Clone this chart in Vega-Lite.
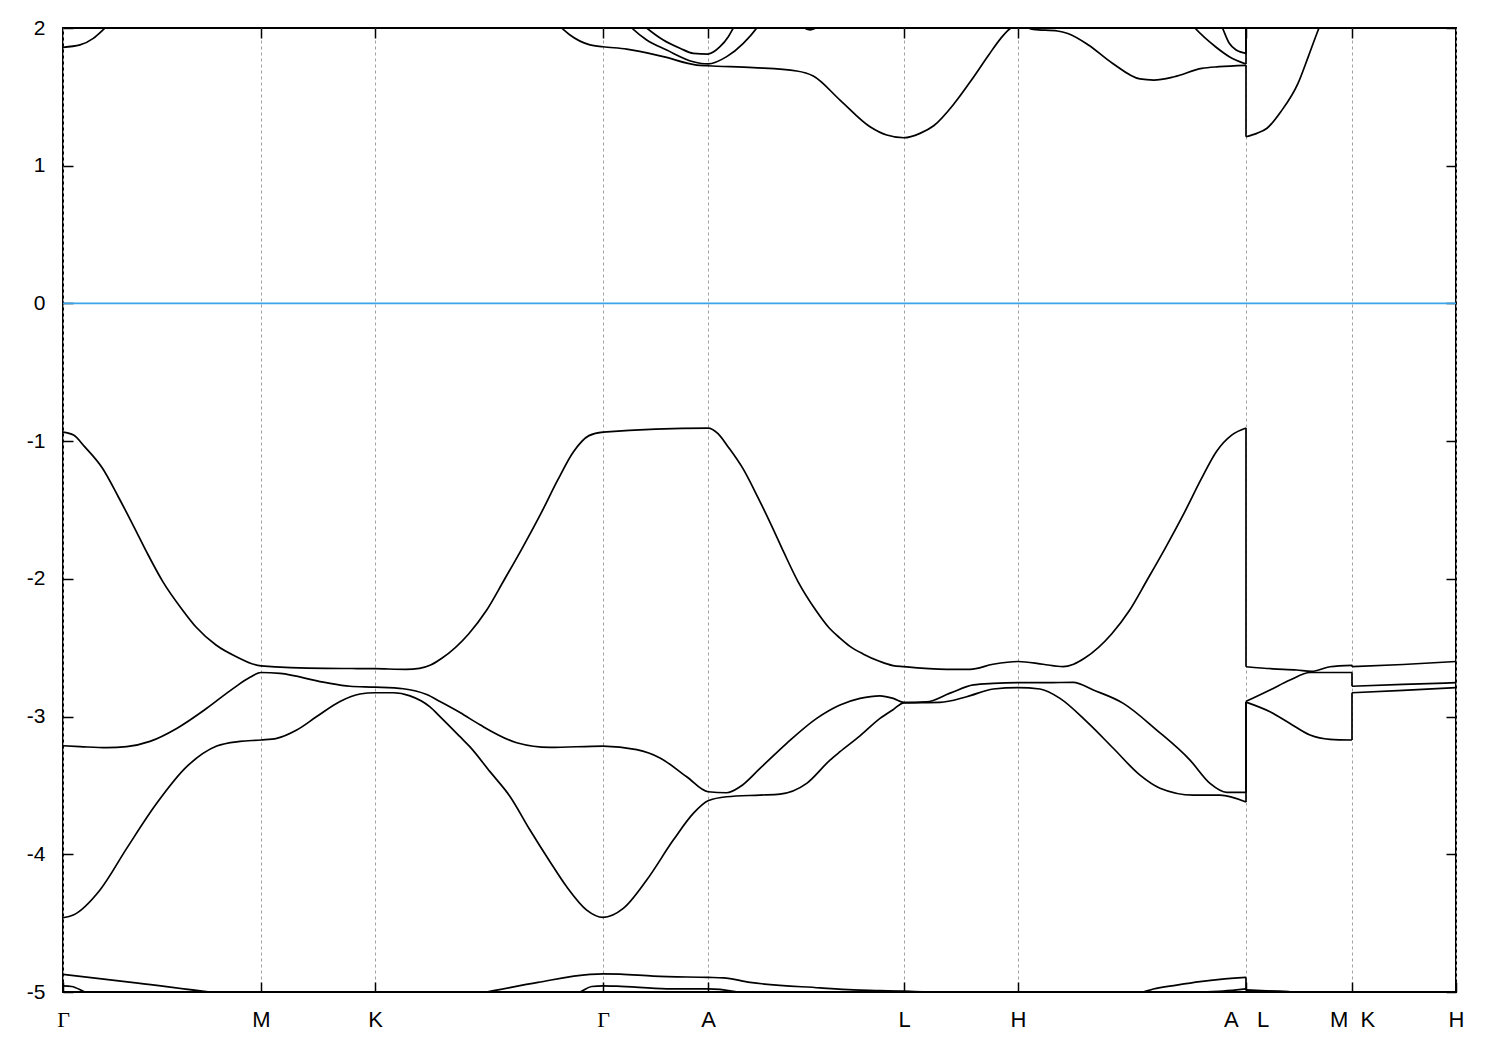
{
  "$schema": "https://vega.github.io/schema/vega-lite/v6.json",
  "width": 1393,
  "height": 964,
  "autosize": "none",
  "padding": {"left": 63, "top": 28, "right": 44, "bottom": 58},
  "background": "white",
  "config": {
    "view": {"stroke": "black", "strokeWidth": 2},
    "axis": {"labelFont": "Liberation Sans", "labelFontSize": 20, "labelColor": "black", "tickColor": "black", "tickWidth": 1.5, "domain": false, "title": null}
  },
  "datasets": {
    "bands": [
      {"s":"v1a","k":0,"e":-0.935},{"s":"v1a","k":10.5,"e":-0.956},{"s":"v1a","k":21.6,"e":-1.04},{"s":"v1a","k":39.5,"e":-1.197},{"s":"v1a","k":55,"e":-1.4},{"s":"v1a","k":70.8,"e":-1.62},{"s":"v1a","k":84,"e":-1.81},{"s":"v1a","k":99.8,"e":-2.02},{"s":"v1a","k":119.9,"e":-2.23},{"s":"v1a","k":133,"e":-2.35},{"s":"v1a","k":153,"e":-2.48},{"s":"v1a","k":173.4,"e":-2.565},{"s":"v1a","k":198,"e":-2.632},{"s":"v1a","k":262.7,"e":-2.65},{"s":"v1a","k":312,"e":-2.652},{"s":"v1a","k":343,"e":-2.657},{"s":"v1a","k":356.5,"e":-2.65},{"s":"v1a","k":367.6,"e":-2.626},{"s":"v1a","k":378.8,"e":-2.577},{"s":"v1a","k":405.6,"e":-2.4},{"s":"v1a","k":423.4,"e":-2.23},{"s":"v1a","k":441,"e":-2.01},{"s":"v1a","k":459,"e":-1.78},{"s":"v1a","k":479,"e":-1.51},{"s":"v1a","k":494.9,"e":-1.28},{"s":"v1a","k":510.5,"e":-1.077},{"s":"v1a","k":526,"e":-0.96},{"s":"v1a","k":540,"e":-0.935},{"s":"v1a","k":645,"e":-0.905},{"s":"v1a","k":655,"e":-0.945},{"s":"v1a","k":665,"e":-1.04},{"s":"v1a","k":680,"e":-1.2},{"s":"v1a","k":695,"e":-1.41},{"s":"v1a","k":709,"e":-1.62},{"s":"v1a","k":721,"e":-1.81},{"s":"v1a","k":735,"e":-2.02},{"s":"v1a","k":753,"e":-2.23},{"s":"v1a","k":766,"e":-2.355},{"s":"v1a","k":777,"e":-2.43},{"s":"v1a","k":787,"e":-2.49},{"s":"v1a","k":800,"e":-2.545},{"s":"v1a","k":817,"e":-2.6},{"s":"v1a","k":830,"e":-2.63},{"s":"v1a","k":841,"e":-2.638},{"s":"v1a","k":883.7,"e":-2.657},{"s":"v1a","k":907,"e":-2.657},{"s":"v1a","k":930,"e":-2.62},{"s":"v1a","k":955,"e":-2.6},{"s":"v1a","k":980,"e":-2.62},{"s":"v1a","k":1000,"e":-2.638},{"s":"v1a","k":1010.6,"e":-2.62},{"s":"v1a","k":1021.8,"e":-2.575},{"s":"v1a","k":1048.6,"e":-2.4},{"s":"v1a","k":1066.4,"e":-2.23},{"s":"v1a","k":1084,"e":-2.01},{"s":"v1a","k":1102,"e":-1.78},{"s":"v1a","k":1122,"e":-1.51},{"s":"v1a","k":1137.9,"e":-1.28},{"s":"v1a","k":1153.5,"e":-1.075},{"s":"v1a","k":1169,"e":-0.955},{"s":"v1a","k":1183,"e":-0.905},
      {"s":"v1j1","k":1183,"e":-0.905},{"s":"v1j1","k":1183,"e":-2.638},
      {"s":"v1b","k":1183,"e":-2.638},{"s":"v1b","k":1210,"e":-2.653},{"s":"v1b","k":1233.7,"e":-2.662},{"s":"v1b","k":1248.7,"e":-2.672},{"s":"v1b","k":1267,"e":-2.638},{"s":"v1b","k":1289,"e":-2.628},
      {"s":"v1j2","k":1289,"e":-2.628},{"s":"v1j2","k":1289,"e":-2.638},
      {"s":"v1c","k":1289,"e":-2.638},{"s":"v1c","k":1340,"e":-2.622},{"s":"v1c","k":1393,"e":-2.6},

      {"s":"v2a","k":0,"e":-3.212},{"s":"v2a","k":17,"e":-3.218},{"s":"v2a","k":43.7,"e":-3.226},{"s":"v2a","k":63.7,"e":-3.218},{"s":"v2a","k":87,"e":-3.18},{"s":"v2a","k":113.7,"e":-3.086},{"s":"v2a","k":143.7,"e":-2.94},{"s":"v2a","k":170.3,"e":-2.795},{"s":"v2a","k":187,"e":-2.715},{"s":"v2a","k":198,"e":-2.68},{"s":"v2a","k":217,"e":-2.687},{"s":"v2a","k":260.3,"e":-2.75},{"s":"v2a","k":287,"e":-2.78},{"s":"v2a","k":312,"e":-2.786},{"s":"v2a","k":340.3,"e":-2.798},{"s":"v2a","k":363.7,"e":-2.84},{"s":"v2a","k":377,"e":-2.89},{"s":"v2a","k":397,"e":-2.97},{"s":"v2a","k":417,"e":-3.06},{"s":"v2a","k":453.7,"e":-3.19},{"s":"v2a","k":487,"e":-3.224},{"s":"v2a","k":540,"e":-3.214},{"s":"v2a","k":573.7,"e":-3.24},{"s":"v2a","k":597,"e":-3.3},{"s":"v2a","k":623.7,"e":-3.437},{"s":"v2a","k":645,"e":-3.546},{"s":"v2a","k":663.7,"e":-3.553},{"s":"v2a","k":677,"e":-3.51},{"s":"v2a","k":697,"e":-3.376},{"s":"v2a","k":723.7,"e":-3.194},{"s":"v2a","k":753.7,"e":-3.013},{"s":"v2a","k":777,"e":-2.916},{"s":"v2a","k":797,"e":-2.868},{"s":"v2a","k":817,"e":-2.849},{"s":"v2a","k":830.3,"e":-2.868},{"s":"v2a","k":841,"e":-2.897},{"s":"v2a","k":863.7,"e":-2.893},{"s":"v2a","k":887,"e":-2.83},{"s":"v2a","k":910.3,"e":-2.77},{"s":"v2a","k":930.3,"e":-2.759},{"s":"v2a","k":955,"e":-2.754},{"s":"v2a","k":983.7,"e":-2.754},{"s":"v2a","k":1010.3,"e":-2.751},{"s":"v2a","k":1030.3,"e":-2.807},{"s":"v2a","k":1060.3,"e":-2.904},{"s":"v2a","k":1093.7,"e":-3.098},{"s":"v2a","k":1127,"e":-3.316},{"s":"v2a","k":1147,"e":-3.485},{"s":"v2a","k":1163.7,"e":-3.55},{"s":"v2a","k":1183,"e":-3.55},
      {"s":"v2j1","k":1183,"e":-3.55},{"s":"v2j1","k":1183,"e":-2.89},
      {"s":"v2b","k":1183,"e":-2.89},{"s":"v2b","k":1207,"e":-2.807},{"s":"v2b","k":1227,"e":-2.735},{"s":"v2b","k":1247,"e":-2.68},{"s":"v2b","k":1267,"e":-2.68},{"s":"v2b","k":1289,"e":-2.68},
      {"s":"v2j2","k":1289,"e":-2.68},{"s":"v2j2","k":1289,"e":-2.78},
      {"s":"v2c","k":1289,"e":-2.78},{"s":"v2c","k":1340,"e":-2.766},{"s":"v2c","k":1393,"e":-2.754},

      {"s":"v3a","k":0,"e":-4.461},{"s":"v3a","k":10.3,"e":-4.441},{"s":"v3a","k":37,"e":-4.259},{"s":"v3a","k":63.7,"e":-3.957},{"s":"v3a","k":93.7,"e":-3.63},{"s":"v3a","k":123.7,"e":-3.364},{"s":"v3a","k":153.7,"e":-3.214},{"s":"v3a","k":177,"e":-3.18},{"s":"v3a","k":198,"e":-3.17},{"s":"v3a","k":213.7,"e":-3.158},{"s":"v3a","k":233.7,"e":-3.098},{"s":"v3a","k":253.7,"e":-3.0},{"s":"v3a","k":277,"e":-2.89},{"s":"v3a","k":297,"e":-2.836},{"s":"v3a","k":312,"e":-2.827},{"s":"v3a","k":330.3,"e":-2.827},{"s":"v3a","k":347,"e":-2.85},{"s":"v3a","k":367,"e":-2.93},{"s":"v3a","k":377,"e":-3.0},{"s":"v3a","k":397,"e":-3.146},{"s":"v3a","k":407,"e":-3.22},{"s":"v3a","k":427,"e":-3.4},{"s":"v3a","k":447,"e":-3.58},{"s":"v3a","k":467,"e":-3.824},{"s":"v3a","k":487,"e":-4.054},{"s":"v3a","k":503.7,"e":-4.236},{"s":"v3a","k":523.7,"e":-4.405},{"s":"v3a","k":540,"e":-4.458},{"s":"v3a","k":560.3,"e":-4.393},{"s":"v3a","k":583.7,"e":-4.187},{"s":"v3a","k":610.3,"e":-3.897},{"s":"v3a","k":630.3,"e":-3.703},{"s":"v3a","k":645,"e":-3.611},{"s":"v3a","k":663.7,"e":-3.582},{"s":"v3a","k":697,"e":-3.57},{"s":"v3a","k":717,"e":-3.563},{"s":"v3a","k":743.7,"e":-3.485},{"s":"v3a","k":767,"e":-3.316},{"s":"v3a","k":777,"e":-3.255},{"s":"v3a","k":797,"e":-3.14},{"s":"v3a","k":817,"e":-3.013},{"s":"v3a","k":830,"e":-2.95},{"s":"v3a","k":841,"e":-2.9},{"s":"v3a","k":877,"e":-2.897},{"s":"v3a","k":903.7,"e":-2.856},{"s":"v3a","k":930.3,"e":-2.8},{"s":"v3a","k":955,"e":-2.79},{"s":"v3a","k":977,"e":-2.8},{"s":"v3a","k":997,"e":-2.868},{"s":"v3a","k":1023.7,"e":-3.037},{"s":"v3a","k":1050.3,"e":-3.23},{"s":"v3a","k":1077,"e":-3.425},{"s":"v3a","k":1097,"e":-3.52},{"s":"v3a","k":1130.3,"e":-3.57},{"s":"v3a","k":1157,"e":-3.57},{"s":"v3a","k":1183,"e":-3.62},
      {"s":"v3j1","k":1183,"e":-3.62},{"s":"v3j1","k":1183,"e":-2.895},
      {"s":"v3b","k":1183,"e":-2.895},{"s":"v3b","k":1207,"e":-2.965},{"s":"v3b","k":1227,"e":-3.05},{"s":"v3b","k":1247,"e":-3.134},{"s":"v3b","k":1267,"e":-3.165},{"s":"v3b","k":1289,"e":-3.17},
      {"s":"v3j2","k":1289,"e":-3.17},{"s":"v3j2","k":1289,"e":-2.827},
      {"s":"v3c","k":1289,"e":-2.827},{"s":"v3c","k":1340,"e":-2.81},{"s":"v3c","k":1393,"e":-2.79},

      {"s":"v4a","k":0,"e":-4.872},{"s":"v4a","k":75,"e":-4.935},{"s":"v4a","k":147,"e":-5.0},{"s":"v4a","k":200,"e":-5.04},{"s":"v4a","k":300,"e":-5.1},{"s":"v4a","k":400,"e":-5.03},{"s":"v4a","k":423.7,"e":-5.0},{"s":"v4a","k":475,"e":-4.93},{"s":"v4a","k":527,"e":-4.872},{"s":"v4a","k":540,"e":-4.868},{"s":"v4a","k":557,"e":-4.87},{"s":"v4a","k":590.3,"e":-4.885},{"s":"v4a","k":645,"e":-4.894},{"s":"v4a","k":660.3,"e":-4.897},{"s":"v4a","k":687,"e":-4.93},{"s":"v4a","k":757,"e":-4.97},{"s":"v4a","k":790.3,"e":-4.985},{"s":"v4a","k":817,"e":-4.99},{"s":"v4a","k":841,"e":-4.996},{"s":"v4a","k":857,"e":-5.0},{"s":"v4a","k":900,"e":-5.05},{"s":"v4a","k":1000,"e":-5.08},{"s":"v4a","k":1080.3,"e":-5.0},{"s":"v4a","k":1090.3,"e":-4.978},{"s":"v4a","k":1113.7,"e":-4.95},{"s":"v4a","k":1137,"e":-4.925},{"s":"v4a","k":1157,"e":-4.908},{"s":"v4a","k":1183,"e":-4.894},
      {"s":"v4j1","k":1183,"e":-4.894},{"s":"v4j1","k":1183,"e":-4.985},
      {"s":"v4b","k":1183,"e":-4.985},{"s":"v4b","k":1210,"e":-4.993},{"s":"v4b","k":1230,"e":-5.0},{"s":"v4b","k":1260,"e":-5.05},{"s":"v4b","k":1289,"e":-5.1},

      {"s":"v5a","k":0,"e":-4.955},{"s":"v5a","k":8.7,"e":-4.96},{"s":"v5a","k":22,"e":-5.0},{"s":"v5a","k":60,"e":-5.05},{"s":"v5a","k":300,"e":-5.15},{"s":"v5a","k":500,"e":-5.03},{"s":"v5a","k":517,"e":-5.0},{"s":"v5a","k":528.7,"e":-4.96},{"s":"v5a","k":540,"e":-4.955},{"s":"v5a","k":553.7,"e":-4.957},{"s":"v5a","k":603.7,"e":-4.977},{"s":"v5a","k":645,"e":-4.977},{"s":"v5a","k":670.3,"e":-4.995},{"s":"v5a","k":680,"e":-5.01},{"s":"v5a","k":700,"e":-5.02},{"s":"v5a","k":790,"e":-5.01},{"s":"v5a","k":815,"e":-4.998},{"s":"v5a","k":841,"e":-4.996},{"s":"v5a","k":860,"e":-4.999},{"s":"v5a","k":880,"e":-5.02},{"s":"v5a","k":1100,"e":-5.03},{"s":"v5a","k":1140,"e":-5.0},{"s":"v5a","k":1160,"e":-4.993},{"s":"v5a","k":1183,"e":-4.977},
      {"s":"v5j1","k":1183,"e":-4.977},{"s":"v5j1","k":1183,"e":-4.99},
      {"s":"v5b","k":1183,"e":-4.99},{"s":"v5b","k":1210,"e":-4.995},{"s":"v5b","k":1230,"e":-5.0},{"s":"v5b","k":1260,"e":-5.05},

      {"s":"c1a","k":0,"e":1.86},{"s":"c1a","k":17,"e":1.877},{"s":"c1a","k":30.3,"e":1.925},{"s":"c1a","k":42,"e":2.0},{"s":"c1a","k":60,"e":2.12},{"s":"c1a","k":300,"e":2.6},{"s":"c1a","k":480,"e":2.12},{"s":"c1a","k":498.7,"e":2.0},{"s":"c1a","k":507,"e":1.949},{"s":"c1a","k":527,"e":1.877},{"s":"c1a","k":540,"e":1.864},{"s":"c1a","k":563.7,"e":1.847},{"s":"c1a","k":600.3,"e":1.792},{"s":"c1a","k":633.7,"e":1.731},{"s":"c1a","k":645,"e":1.726},{"s":"c1a","k":690.3,"e":1.712},{"s":"c1a","k":733.7,"e":1.688},{"s":"c1a","k":750.3,"e":1.651},{"s":"c1a","k":777,"e":1.477},{"s":"c1a","k":807,"e":1.283},{"s":"c1a","k":823.7,"e":1.223},{"s":"c1a","k":841,"e":1.203},{"s":"c1a","k":857,"e":1.235},{"s":"c1a","k":870.7,"e":1.29},{"s":"c1a","k":891.4,"e":1.453},{"s":"c1a","k":908.5,"e":1.622},{"s":"c1a","k":925.7,"e":1.804},{"s":"c1a","k":937.8,"e":1.925},{"s":"c1a","k":948,"e":2.0},{"s":"c1a","k":955,"e":2.015},{"s":"c1a","k":965,"e":2.0},{"s":"c1a","k":970.4,"e":1.99},{"s":"c1a","k":994.5,"e":1.978},{"s":"c1a","k":1004.8,"e":1.96},{"s":"c1a","k":1025.4,"e":1.877},{"s":"c1a","k":1049.4,"e":1.744},{"s":"c1a","k":1076.9,"e":1.63},{"s":"c1a","k":1090.7,"e":1.622},{"s":"c1a","k":1111.3,"e":1.646},{"s":"c1a","k":1138.8,"e":1.707},{"s":"c1a","k":1156,"e":1.719},{"s":"c1a","k":1183,"e":1.729},
      {"s":"c1j1","k":1183,"e":1.729},{"s":"c1j1","k":1183,"e":1.21},
      {"s":"c1b","k":1183,"e":1.21},{"s":"c1b","k":1193.8,"e":1.235},{"s":"c1b","k":1204,"e":1.272},{"s":"c1b","k":1217.8,"e":1.392},{"s":"c1b","k":1235,"e":1.598},{"s":"c1b","k":1245.3,"e":1.792},{"s":"c1b","k":1255.6,"e":1.993},{"s":"c1b","k":1265,"e":2.15},{"s":"c1b","k":1289,"e":2.5},

      {"s":"c2a","k":555,"e":2.2},{"s":"c2a","k":583.7,"e":2.0},{"s":"c2a","k":600.3,"e":1.913},{"s":"c2a","k":617,"e":1.853},{"s":"c2a","k":630.3,"e":1.816},{"s":"c2a","k":645,"e":1.811},{"s":"c2a","k":657,"e":1.864},{"s":"c2a","k":665.3,"e":1.937},{"s":"c2a","k":670.3,"e":2.0},{"s":"c2a","k":685,"e":2.2},
      {"s":"c2b","k":1145,"e":2.2},{"s":"c2b","k":1159.4,"e":2.0},{"s":"c2b","k":1166.3,"e":1.889},{"s":"c2b","k":1173.2,"e":1.84},{"s":"c2b","k":1183,"e":1.816},
      {"s":"c2j1","k":1183,"e":1.816},{"s":"c2j1","k":1183,"e":2.3},
      {"s":"c3a","k":545,"e":2.2},{"s":"c3a","k":568.7,"e":2.0},{"s":"c3a","k":583.7,"e":1.913},{"s":"c3a","k":603.7,"e":1.84},{"s":"c3a","k":630.3,"e":1.755},{"s":"c3a","k":645,"e":1.739},{"s":"c3a","k":663.7,"e":1.792},{"s":"c3a","k":680.3,"e":1.889},{"s":"c3a","k":693.7,"e":2.0},{"s":"c3a","k":710,"e":2.2},
      {"s":"c3b","k":1110,"e":2.2},{"s":"c3b","k":1131.9,"e":2.0},{"s":"c3b","k":1152.5,"e":1.864},{"s":"c3b","k":1166.3,"e":1.792},{"s":"c3b","k":1183,"e":1.739},
      {"s":"c3j1","k":1183,"e":1.739},{"s":"c3j1","k":1183,"e":2.3},
      {"s":"c4","k":725,"e":2.1},{"s":"c4","k":737,"e":2.02},{"s":"c4","k":747,"e":1.986},{"s":"c4","k":757,"e":2.02},{"s":"c4","k":770,"e":2.1}
    ],
    "zero": [{"k0": 0, "k1": 1393, "e": 0}]
  },
  "layer": [
    {
      "data": {"name": "bands"},
      "mark": {"type": "line", "color": "black", "strokeWidth": 1.7, "clip": true, "interpolate": "monotone"},
      "encoding": {
        "x": {"field": "k", "type": "quantitative",
          "scale": {"domain": [0, 1393], "nice": false, "zero": false},
          "axis": {"orient": "bottom", "values": [0, 198, 312, 540, 645, 841, 955, 1183, 1289, 1393],
            "labelExpr": "datum.value == 0 || datum.value == 540 ? 'Γ' : datum.value == 198 ? 'M' : datum.value == 312 ? 'K' : datum.value == 645 ? 'A' : datum.value == 841 ? 'L' : datum.value == 955 ? 'H' : datum.value == 1183 ? 'A\u00a0\u00a0\u00a0L' : datum.value == 1289 ? 'M\u00a0\u00a0K' : 'H'",
            "labelFont": {"condition": {"test": "datum.value == 0 || datum.value == 540", "value": "Liberation Serif"}, "value": "Liberation Sans"},
            "labelFontSize": 22, "labelBaseline": "top", "labelAlign": "center",
            "labelPadding": 27, "labelFlush": false, "labelOverlap": false, "labelBound": false,
            "tickSize": -10, "grid": true, "gridColor": "#a0a0a0", "gridDash": [3, 3], "gridWidth": 1}},
        "y": {"field": "e", "type": "quantitative",
          "scale": {"domain": [-5, 2], "nice": false, "zero": false},
          "axis": {"orient": "left", "values": [-5, -4, -3, -2, -1, 0, 1, 2],
            "labelExpr": "datum.value < 0 ? '-' + abs(datum.value) : '' + datum.value",
            "labelFontSize": 21, "labelPadding": 28, "labelAlign": "right", "labelBaseline": "middle",
            "labelFlush": false, "labelOverlap": false, "labelBound": false,
            "tickSize": -10, "grid": false}},
        "detail": {"field": "s"}
      }
    },
    {
      "data": {"name": "zero"},
      "mark": {"type": "rule", "color": "#3aa4ea", "strokeWidth": 1.8},
      "encoding": {
        "x": {"field": "k0", "type": "quantitative",
          "axis": {"orient": "top", "values": [198, 312, 540, 645, 841, 955, 1183, 1289], "labels": false, "tickSize": -10, "grid": false}},
        "x2": {"field": "k1"},
        "y": {"field": "e", "type": "quantitative",
          "axis": {"orient": "right", "values": [-5, -4, -3, -2, -1, 0, 1, 2], "labels": false, "tickSize": -10, "grid": false}}
      }
    }
  ],
  "resolve": {"axis": {"x": "independent", "y": "independent"}}
}
